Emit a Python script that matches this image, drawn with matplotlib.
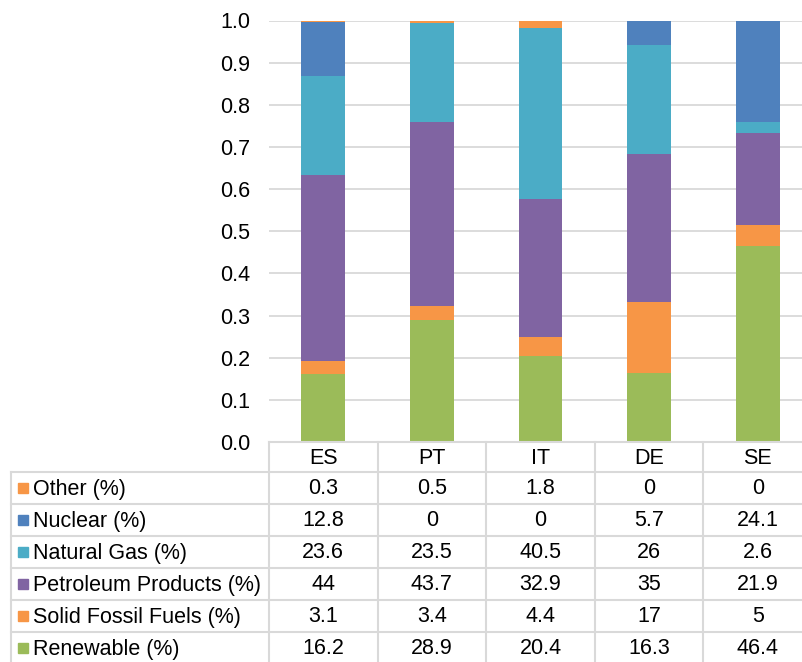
import matplotlib.pyplot as plt
from matplotlib.patches import Rectangle
import numpy as np

plt.rcParams['font.family'] = ['Liberation Sans', 'DejaVu Sans']

countries = ["ES", "PT", "IT", "DE", "SE"]

# table order (top to bottom)
series = ["Other (%)", "Nuclear (%)", "Natural Gas (%)", "Petroleum Products (%)",
          "Solid Fossil Fuels (%)", "Renewable (%)"]
other = [0.3, 0.5, 1.8, 0, 0]
nuclear = [12.8, 0, 0, 5.7, 24.1]
natural_gas = [23.6, 23.5, 40.5, 26, 2.6]
petroleum = [44, 43.7, 32.9, 35, 21.9]
solid_fossil = [3.1, 3.4, 4.4, 17, 5]
renewable = [16.2, 28.9, 20.4, 16.3, 46.4]
values = [other, nuclear, natural_gas, petroleum, solid_fossil, renewable]
colors = ["#F79646", "#4F81BD", "#4BACC6", "#8064A2", "#F79646", "#9BBB59"]

FS = 15.5
W, H = 802, 662
fig = plt.figure(figsize=(W / 100, H / 100), dpi=100)

# plot area in pixels
x0, x1 = 269, 812
ytop, ybot = 20.5, 442
ax = fig.add_axes([x0 / W, 1 - ybot / H, (x1 - x0) / W, (ybot - ytop) / H])

xs = np.arange(len(countries))
bottom = np.zeros(len(countries))
for name, vals, c in reversed(list(zip(series, values, colors))):
    v = np.array(vals) / 100
    ax.bar(xs, v, 0.405, bottom=bottom, color=c, zorder=2)
    bottom += v

ax.set_xlim(-0.5, len(countries) - 0.5)
ax.set_ylim(0, 1)
ax.set_yticks(np.arange(0, 1.01, 0.1))
ax.set_yticklabels([f"{t:.1f}" for t in np.arange(0, 1.01, 0.1)], fontsize=FS)
ax.tick_params(axis='y', length=0, pad=13.5)
ax.set_xticks([])
ax.grid(axis='y', color='#D9D9D9', linewidth=1.3, zorder=0)
for s in ax.spines.values():
    s.set_visible(False)

# data table drawn in pixel coordinates
tb = fig.add_axes([0, 0, 1, 1])
tb.set_xlim(0, W)
tb.set_ylim(H, 0)
tb.axis('off')
tb.patch.set_alpha(0)

colw = (x1 - x0) / len(countries)
line = dict(color='#D9D9D9', linewidth=1.5)
row_y = [472 + 32 * i for i in range(7)]

tb.plot([x0, W], [ybot, ybot], **line)
for i in range(len(countries) + 1):
    xb = x0 + i * colw
    tb.plot([xb, xb], [ybot, H], **line)
tb.plot([11, 11], [row_y[0], H], **line)
for yb in row_y:
    tb.plot([11, W], [yb, yb], **line)

for i, c in enumerate(countries):
    tb.text(x0 + (i + 0.5) * colw, (ybot + row_y[0]) / 2 + 1, c,
            ha='center', va='center', fontsize=FS)

for r, (name, vals, col) in enumerate(zip(series, values, colors)):
    yc = (row_y[r] + row_y[r + 1]) / 2
    tb.add_patch(Rectangle((18, yc - 5), 10, 10, color=col))
    tb.text(33, yc + 1, name, ha='left', va='center', fontsize=FS)
    for i, v in enumerate(vals):
        tb.text(x0 + (i + 0.5) * colw, yc + 1, f"{v:g}",
                ha='center', va='center', fontsize=FS)

fig.savefig("out.png", dpi=100)
